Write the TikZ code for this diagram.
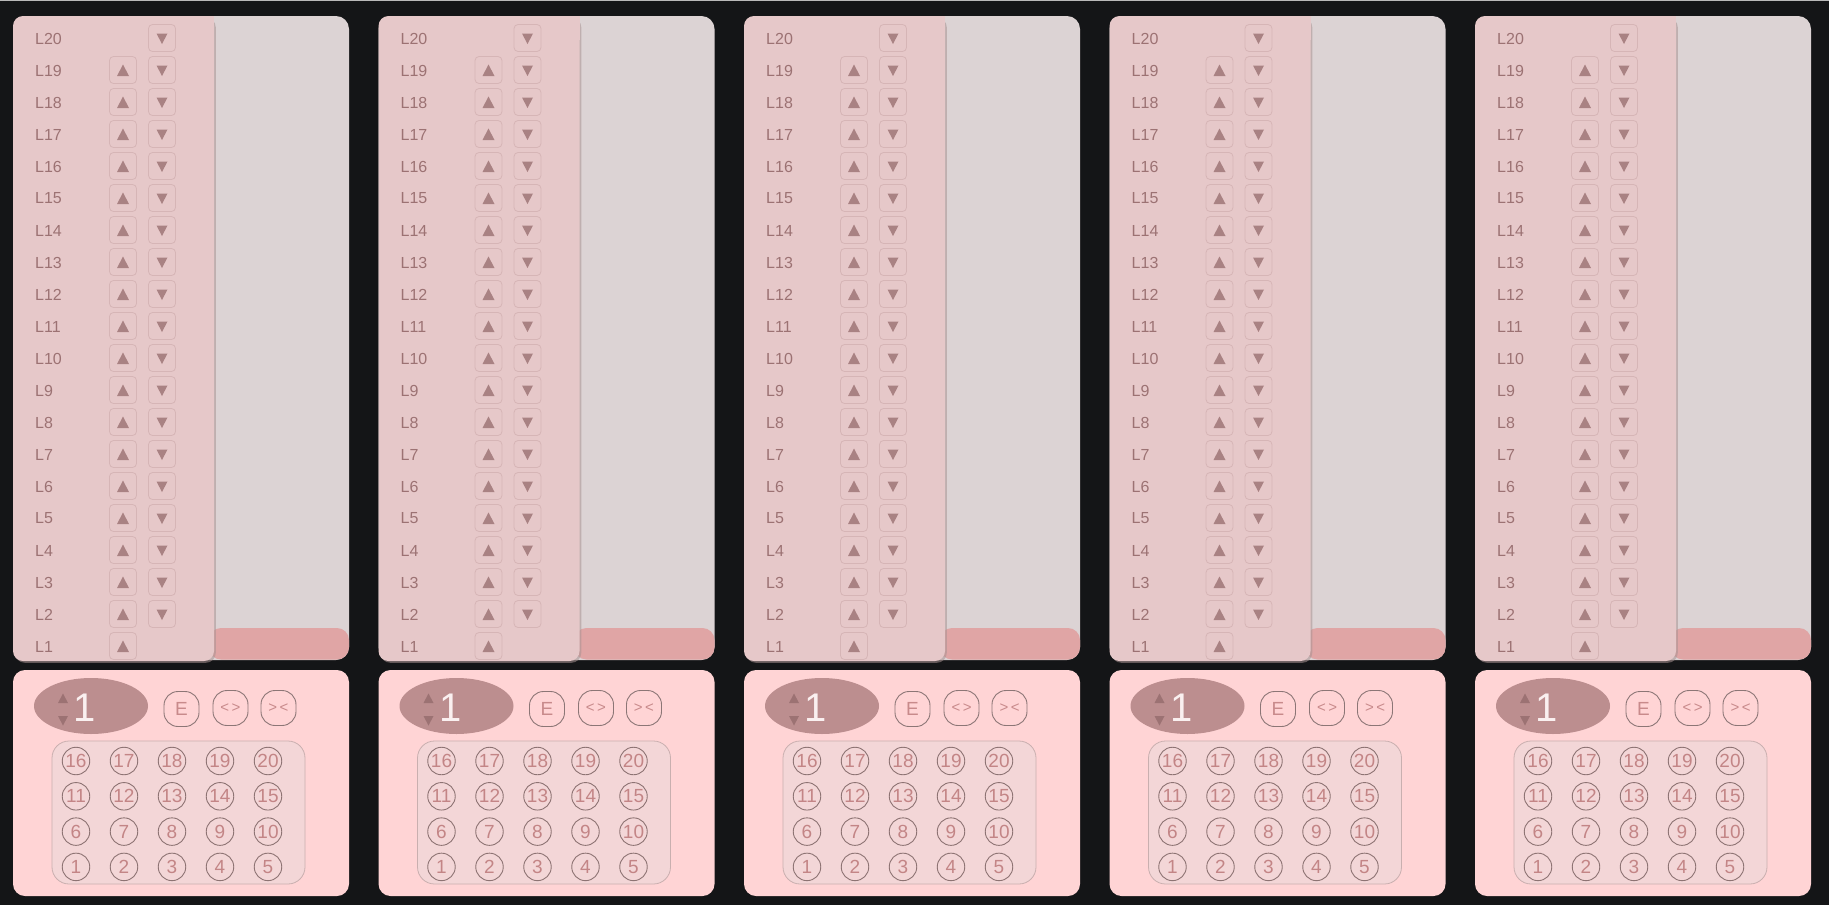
\documentclass[tikz,border=0pt]{standalone}
\usepackage{fontspec}
\setmainfont{Liberation Sans}
\usetikzlibrary{shapes.geometric}
\definecolor{bgc}{HTML}{141517}
\definecolor{topl}{HTML}{B9B9B9}
\definecolor{grayp}{HTML}{DCD3D4}
\definecolor{leftc}{HTML}{E6C8C9}
\definecolor{barc}{HTML}{E0A5A5}
\definecolor{btnb}{HTML}{D6B5B6}
\definecolor{tric}{HTML}{A98283}
\definecolor{labc}{HTML}{9C7273}
\definecolor{botc}{HTML}{FFD4D5}
\definecolor{ellc}{HTML}{BC8E8F}
\definecolor{onec}{HTML}{FAF0F0}
\definecolor{spinc}{HTML}{9C7273}
\definecolor{obtnb}{HTML}{8C7676}
\definecolor{obtnt}{HTML}{C88A8B}
\definecolor{innerc}{HTML}{F3D6D7}
\definecolor{innerb}{HTML}{C9AFAF}
\definecolor{circb}{HTML}{8D7373}
\definecolor{numc}{HTML}{C38586}
\definecolor{shadc}{HTML}{A89292}
\tikzset{
  lvlbtn/.style={draw=btnb, line width=0.8pt, fill=leftc, rounded corners=4pt, minimum width=27pt, minimum height=27pt, inner sep=0pt},
  lvllabel/.style={anchor=west, text=labc, inner sep=0pt, font=\fontsize{16}{18}\selectfont},
  optbtn/.style={draw=obtnb, line width=0.9pt, rounded corners=14pt, minimum width=35pt, minimum height=35pt, inner sep=0pt, text=obtnt},
  floorbtn/.style={circle, draw=circb, line width=0.9pt, minimum size=27.5pt, inner sep=0pt, text=numc, font=\fontsize{19}{20}\selectfont},
}
\begin{document}
\begin{tikzpicture}[x=1pt,y=-1pt]
\useasboundingbox (0,0) rectangle (1829,905);
\fill[bgc] (0,0) rectangle (1829,905);
\fill[topl] (0,0) rectangle (1829,1.4);
\foreach \p in {0,...,4} {
  \pgfmathsetmacro\ox{13+365.5*\p}
  \begin{scope}[shift={(\ox,0)}]
    % upper area
    \fill[grayp, rounded corners=13pt] (0,16) rectangle (336,660);
    \fill[barc, rounded corners=12pt] (196,628) rectangle (336,659.5);
    \fill[shadc, opacity=0.55, rounded corners=10pt] (1.8,17.5) rectangle (202.8,662.8);
    \fill[leftc, rounded corners=10pt] (0,16) rectangle (201,661);
    \fill[leftc] (185,16) rectangle (201,40);
    \foreach \k in {1,...,20} {
      \pgfmathsetmacro\yy{38.5+(20-\k)*32}
      \node[lvllabel] (L\p-\k) at (22,\yy) {L\k};
      \ifnum\k<20
        \node[lvlbtn] (up\p-\k) at (110,\yy-0.5) {};
        \fill[tric] (104,\yy+5.5) -- (116,\yy+5.5) -- (110,\yy-6) -- cycle;
      \fi
      \ifnum\k>1
        \node[lvlbtn] (dn\p-\k) at (149,\yy-0.5) {};
        \fill[tric] (143.5,\yy-5) -- (154.5,\yy-5) -- (149,\yy+5.5) -- cycle;
      \fi
    }
    % lower panel
    \fill[botc, rounded corners=12pt] (0,670) rectangle (336,896);
    \node[ellipse, fill=ellc, minimum width=114pt, minimum height=56pt, inner sep=0pt] (disp\p) at (78,706) {};
    \fill[spinc] (45,703) -- (55,703) -- (50,693.5) -- cycle;
    \fill[spinc] (45,716) -- (55,716) -- (50,725.5) -- cycle;
    \node[text=onec, inner sep=0pt, font=\fontsize{40}{40}\selectfont] (one\p) at (72,707.5) {1};
    \node[optbtn, font=\fontsize{19}{20}\selectfont] (e\p) at (168.5,709) {E};
    \node[optbtn, font=\fontsize{15}{18}\selectfont] (open\p) at (217.5,708) {<\kern2.5pt>};
    \node[optbtn, font=\fontsize{15}{18}\selectfont] (close\p) at (265.5,708) {>\kern2.5pt<};
    \draw[fill=innerc, draw=innerb, line width=0.8pt, rounded corners=17pt] (39,741) rectangle (292,884);
    \foreach \r in {0,...,3} {
      \foreach \c in {0,...,4} {
        \pgfmathtruncatemacro\n{(3-\r)*5+\c+1}
        \pgfmathsetmacro\cx{63+48*\c}
        \pgfmathsetmacro\cy{761+35.3*\r}
        \node[floorbtn] (f\p-\n) at (\cx,\cy) {\n};
      }
    }
  \end{scope}
}
\end{tikzpicture}
\end{document}
